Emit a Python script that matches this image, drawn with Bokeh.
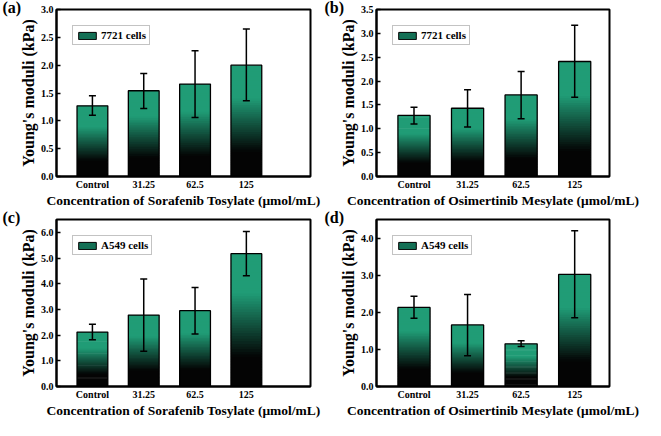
from bokeh.plotting import figure
from bokeh.models import (Range1d, FixedTicker, NumeralTickFormatter, Whisker, TeeHead,
                          ColumnDataSource, Legend, LegendItem, Title)
from bokeh.layouts import row, column
from bokeh.embed import file_html
from bokeh.resources import INLINE

# ---------------- data ----------------
categories = ["Control", "31.25", "62.5", "125"]

a_vals = [1.27, 1.54, 1.66, 2.00]
a_lo = [1.10, 1.22, 1.06, 1.36]
a_hi = [1.45, 1.85, 2.26, 2.65]

b_vals = [1.28, 1.43, 1.71, 2.41]
b_lo = [1.10, 1.04, 1.21, 1.66]
b_hi = [1.45, 1.82, 2.20, 3.17]

c_vals = [2.12, 2.78, 2.95, 5.17]
c_lo = [1.82, 1.37, 2.04, 4.31]
c_hi = [2.42, 4.18, 3.85, 6.03]

d_vals = [2.13, 1.66, 1.15, 3.02]
d_lo = [1.84, 0.83, 1.08, 1.85]
d_hi = [2.43, 2.48, 1.23, 4.20]

FONT = "Liberation Serif"
GREEN = (32, 156, 118)


def grad_color(f):
    t = (f - 0.22) / (0.70 - 0.22)
    t = max(0.0, min(1.0, t))
    r = int(4 + (GREEN[0] - 4) * t)
    g = int(4 + (GREEN[1] - 4) * t)
    b = int(4 + (GREEN[2] - 4) * t)
    return "#%02x%02x%02x" % (r, g, b)


def panel(tag, vals, lo, hi, ymax, ystep, xend, xlabel, legend_label,
          width, bl, br, bt, bb, height):
    xs = list(range(1, len(categories) + 1))
    p = figure(width=width, height=height, output_backend="svg", toolbar_location=None,
               x_range=Range1d(0.3, xend), y_range=Range1d(0, ymax),
               min_border_left=bl, min_border_right=br, min_border_top=bt,
               min_border_bottom=bb, background_fill_color="white")
    p.xgrid.visible = False
    p.ygrid.visible = False
    p.outline_line_color = "black"
    p.outline_line_width = 2

    # gradient bars made of overlapping slices
    N = 50
    sx, sb, st, sc = [], [], [], []
    for x, v in zip(xs, vals):
        for i in range(N):
            sx.append(x)
            sb.append(v * i / N)
            st.append(v * min(i + 1.6, N) / N)
            sc.append(grad_color((i + 0.5) / N))
    src = ColumnDataSource(dict(x=sx, bottom=sb, top=st, color=sc))
    p.vbar(x="x", bottom="bottom", top="top", width=0.6, source=src,
           fill_color="color", line_color=None)
    p.vbar(x=xs, top=vals, bottom=0, width=0.6, fill_alpha=0,
           line_color="black", line_width=1.3)

    # legend-only renderer (not drawn: NaN height)
    leg_r = p.vbar(x=[xs[0]], top=[float("nan")], width=0.6, fill_color="#137055",
                   line_color="black", line_width=1)

    # error bars
    wsrc = ColumnDataSource(dict(x=xs, lower=lo, upper=hi))
    w = Whisker(source=wsrc, base="x", lower="lower", upper="upper",
                line_color="black", line_width=1.5, level="overlay",
                upper_head=TeeHead(size=7, line_color="black", line_width=1.5),
                lower_head=TeeHead(size=7, line_color="black", line_width=1.5))
    p.add_layout(w)

    # axes
    p.xaxis.ticker = FixedTicker(ticks=xs)
    p.xaxis.major_label_overrides = {x: c for x, c in zip(xs, categories)}
    p.xaxis.major_tick_line_color = None
    p.xaxis.major_tick_in = 0
    p.xaxis.major_tick_out = 0
    p.xaxis.minor_tick_line_color = None
    p.xaxis.minor_tick_out = 0
    nt = int(round(ymax / ystep, 6) // 1) + 1
    p.yaxis.ticker = FixedTicker(ticks=[round(i * ystep, 2) for i in range(nt)])
    p.yaxis.formatter = NumeralTickFormatter(format="0.0")
    p.yaxis.major_tick_in = 4
    p.yaxis.major_tick_out = 0
    p.yaxis.minor_tick_line_color = None
    p.yaxis.minor_tick_out = 0
    for ax in (p.xaxis[0], p.yaxis[0]):
        ax.axis_line_width = 2
        ax.axis_line_color = "black"
        ax.major_tick_line_width = 1.5
        ax.major_label_text_font = FONT
        ax.major_label_text_font_style = "bold"
        ax.major_label_text_font_size = "10px"
        ax.major_label_text_color = "black"
        ax.axis_label_text_font = FONT
        ax.axis_label_text_font_style = "bold"
        ax.axis_label_text_color = "black"
    p.xaxis.axis_label_text_font_size = "13.5px"
    p.yaxis.axis_label_text_font_size = "16px"
    p.xaxis.axis_label = xlabel
    p.yaxis.axis_label = "Young's moduli (kPa)"
    p.xaxis.major_label_standoff = 2
    p.xaxis.axis_label_standoff = 0
    p.yaxis.major_label_standoff = 3
    p.yaxis.axis_label_standoff = 1

    legend = Legend(items=[LegendItem(label=legend_label, renderers=[leg_r])],
                    location="top_left", margin=16, padding=3, spacing=0,
                    glyph_width=22, glyph_height=9, label_height=9,
                    label_standoff=3, border_line_color="#888888",
                    border_line_width=1, background_fill_alpha=1,
                    label_text_font=FONT, label_text_font_style="bold",
                    label_text_font_size="11px", label_text_color="black")
    p.add_layout(legend)

    # panel tag drawn as a title sitting in the left margin
    t = Title(text=tag, align="left", offset=-bl + 2, standoff=-13,
              text_font=FONT, text_font_style="bold", text_font_size="16px",
              text_color="black")
    p.add_layout(t, "above")
    return p


pa = panel("(a)", a_vals, a_lo, a_hi, 3.0, 0.5, 5.25,
           "Concentration of Sorafenib Tosylate (\u03bcmol/mL)", "7721 cells",
           322, 56, 12, 9, 30, 210)
pb = panel("(b)", b_vals, b_lo, b_hi, 3.5, 0.5, 4.65,
           "Concentration of Osimertinib Mesylate (\u03bcmol/mL)", "7721 cells",
           322, 54, 35, 9, 30, 210)
pc = panel("(c)", c_vals, c_lo, c_hi, 6.5, 1.0, 5.25,
           "Concentration of Sorafenib Tosylate (\u03bcmol/mL)", "A549 cells",
           322, 56, 12, 9, 30, 210)
pd = panel("(d)", d_vals, d_lo, d_hi, 4.5, 1.0, 4.65,
           "Concentration of Osimertinib Mesylate (\u03bcmol/mL)", "A549 cells",
           322, 54, 35, 9, 30, 210)

layout = column(row(pa, pb), row(pc, pd))
open("out.html", "w").write(file_html(layout, INLINE))
